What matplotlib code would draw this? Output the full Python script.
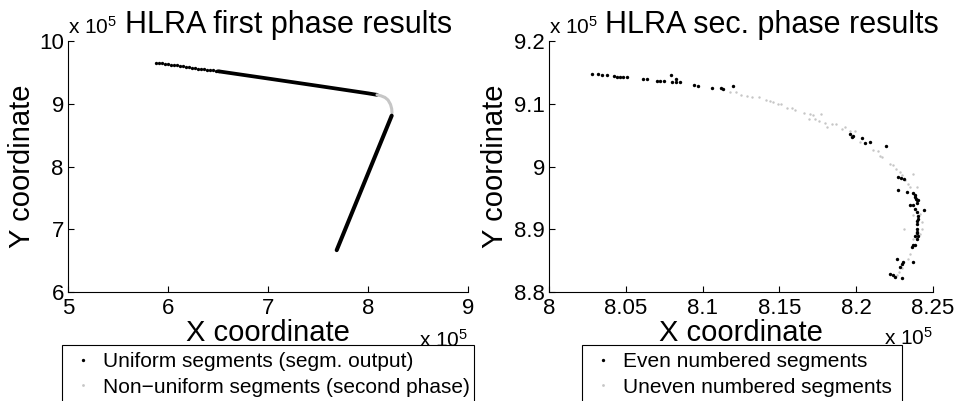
import matplotlib
matplotlib.use("Agg")
import matplotlib.pyplot as plt
from matplotlib.lines import Line2D
from matplotlib.ticker import FormatStrFormatter

plt.rcParams['font.family'] = ['Liberation Sans', 'DejaVu Sans']
plt.rcParams['mathtext.fontset'] = 'custom'
plt.rcParams['mathtext.rm'] = 'Liberation Sans'
plt.rcParams['mathtext.it'] = 'Liberation Sans'

# ---------------- data (coordinates in units of 10^5) ----------------
# First phase: sparse uniform-segment dots at the far end of the upper branch
sparse_x = [5.88, 5.91, 5.94, 5.97, 6.00, 6.03, 6.06, 6.09, 6.12, 6.15, 6.18,
            6.21, 6.24, 6.27, 6.30, 6.33, 6.36, 6.39, 6.42, 6.45, 6.48, 6.51]
sparse_y = [9.656, 9.650, 9.642, 9.637, 9.628, 9.623, 9.615, 9.610, 9.601, 9.597, 9.588,
            9.583, 9.575, 9.570, 9.561, 9.556, 9.548, 9.543, 9.534, 9.530, 9.521, 9.516]
# dense uniform segments (upper branch)
upper_x = [6.50, 7.00, 7.50, 8.00, 8.09]
upper_y = [9.518, 9.402, 9.285, 9.166, 9.142]
# non-uniform segments (corner arc)
arc_x = [8.09, 8.13, 8.17, 8.20, 8.225, 8.237, 8.240]
arc_y = [9.142, 9.126, 9.100, 9.060, 8.990, 8.920, 8.855]
# dense uniform segments (lower branch)
lower_x = [8.237, 7.687]
lower_y = [8.810, 6.667]

# Second phase: even numbered segments
even_x = [8.0278, 8.032, 8.0347, 8.038, 8.042, 8.044, 8.046, 8.048, 8.051,
          8.061, 8.064, 8.070, 8.072, 8.075, 8.0794, 8.080, 8.083, 8.083, 8.085,
          8.0946, 8.0972, 8.106, 8.112, 8.1135, 8.1196,
          8.196, 8.197, 8.198, 8.2035, 8.206, 8.209, 8.2195,
          8.227, 8.229, 8.231, 8.2275, 8.2329, 8.2372, 8.238, 8.2383, 8.239, 8.2393, 8.2404,
          8.2395, 8.235, 8.2372, 8.2383, 8.2393, 8.2443, 8.240,
          8.2404, 8.2395, 8.2398, 8.2393, 8.2398, 8.2404, 8.2393,
          8.2372, 8.2361, 8.2383, 8.2393, 8.2383,
          8.2263, 8.2368, 8.2307, 8.2296, 8.2285,
          8.222, 8.2242, 8.2253, 8.2296]
even_y = [9.148, 9.147, 9.146, 9.146, 9.144, 9.143, 9.143, 9.143, 9.143,
          9.140, 9.139, 9.137, 9.137, 9.137, 9.146, 9.135, 9.140, 9.134, 9.135,
          9.130, 9.129, 9.125, 9.125, 9.123, 9.129,
          9.051, 9.047, 9.049, 9.046, 9.037, 9.039, 9.032,
          8.984, 8.982, 8.980, 8.962, 8.959, 8.957, 8.955, 8.951, 8.949, 8.946, 8.946,
          8.942, 8.938, 8.938, 8.933, 8.927, 8.930, 8.921,
          8.917, 8.913, 8.909, 8.901, 8.896, 8.890, 8.885,
          8.875, 8.872, 8.875, 8.894, 8.890,
          8.852, 8.848, 8.848, 8.844, 8.840,
          8.828, 8.827, 8.824, 8.823]
# Second phase: uneven numbered segments
odd_x = [8.118, 8.122, 8.125, 8.129, 8.132, 8.137, 8.141, 8.144, 8.146, 8.149, 8.151,
         8.155, 8.158, 8.160, 8.166, 8.170, 8.172, 8.177, 8.169, 8.173, 8.176, 8.180,
         8.181, 8.184, 8.187, 8.191, 8.193, 8.196, 8.199, 8.2025, 8.211, 8.214, 8.2155,
         8.217, 8.222, 8.224, 8.226, 8.2285, 8.230, 8.2368, 8.2318, 8.234, 8.235, 8.2398,
         8.2372, 8.2415, 8.2426, 8.2426, 8.2415, 8.2372, 8.2313, 8.235, 8.234, 8.2296,
         8.228, 8.2267]
odd_y = [9.119, 9.119, 9.114, 9.113, 9.111, 9.110, 9.106, 9.104, 9.102, 9.100, 9.100,
         9.094, 9.093, 9.090, 9.085, 9.084, 9.082, 9.083, 9.076, 9.076, 9.073, 9.070,
         9.063, 9.067, 9.067, 9.060, 9.063, 9.057, 9.056, 9.039, 9.027, 9.025, 9.017,
         9.015, 9.004, 9.002, 8.996, 8.991, 8.986, 8.988, 8.978, 8.972, 8.967, 8.968,
         8.922, 8.925, 8.912, 8.901, 8.893, 8.885, 8.901, 8.861, 8.853, 8.838,
         8.832, 8.827]

left_xticks = [5, 6, 7, 8, 9]
left_yticks = [6, 7, 8, 9, 10]
right_xticks = [8.0, 8.05, 8.1, 8.15, 8.2, 8.25]
right_yticks = [8.8, 8.9, 9.0, 9.1, 9.2]

titles = ["HLRA first phase results", "HLRA sec. phase results"]
left_labels = ["Uniform segments (segm. output)", "Non\u2212uniform segments (second phase)"]
right_labels = ["Even numbered segments", "Uneven numbered segments"]

GRAY = '#c6c6c6'
W, H = 960, 401
TICK_FS = 16
LABEL_FS = 21
TITLE_FS = 22
LEG_FS = 15
EXP_FS = 15

fig = plt.figure(figsize=(9.6, 4.01), dpi=100)
axL = fig.add_axes([68 / W, 1 - 292 / H, 400 / W, 251 / H])
axR = fig.add_axes([549 / W, 1 - 292 / H, 384 / W, 251 / H])

# left panel
axL.plot(sparse_x, sparse_y, ls='none', marker='o', ms=2.4, color='k', mew=0)
axL.plot(upper_x, upper_y, color='k', lw=2.7, solid_capstyle='round')
axL.plot(arc_x, arc_y, color=GRAY, lw=2.2, solid_capstyle='round')
axL.plot(lower_x, lower_y, color='k', lw=2.9, solid_capstyle='round')
axL.set_xlim(5, 9)
axL.set_ylim(6, 10)
axL.set_xticks(left_xticks)
axL.set_yticks(left_yticks)

# right panel
axR.scatter(odd_x, odd_y, s=3, color=GRAY, linewidths=0, zorder=2)
axR.scatter(even_x, even_y, s=6, color='k', linewidths=0, zorder=3)
axR.set_xlim(8.0, 8.25)
axR.set_ylim(8.8, 9.2)
axR.set_xticks(right_xticks)
axR.set_yticks(right_yticks)

for ax, ylab_x in ((axL, (22 - 68) / 400), (axR, (495 - 549) / 384)):
    for s in ('top', 'right'):
        ax.spines[s].set_visible(False)
    for s in ('left', 'bottom'):
        ax.spines[s].set_linewidth(0.8)
    ax.tick_params(direction='in', length=4, width=0.8, labelsize=TICK_FS)
    ax.tick_params(axis='x', pad=4)
    ax.tick_params(axis='y', pad=3)
    ax.xaxis.set_major_formatter(FormatStrFormatter('%g'))
    ax.yaxis.set_major_formatter(FormatStrFormatter('%g'))
    ax.set_xlabel("X coordinate", fontsize=LABEL_FS, va='baseline')
    ax.xaxis.set_label_coords(0.5, -(341 - 292) / 251)
    ax.set_ylabel("Y coordinate", fontsize=LABEL_FS, va='center')
    ax.yaxis.set_label_coords(ylab_x, 0.5)

# titles and exponent labels
fig.text(289 / W, 1 - 33 / H, titles[0], fontsize=TITLE_FS, ha='center', va='baseline')
fig.text(772 / W, 1 - 33 / H, titles[1], fontsize=TITLE_FS, ha='center', va='baseline')
fig.text(68 / W, 1 - 34 / H, r'x 10$^5$', fontsize=EXP_FS, ha='left', va='baseline')
fig.text(549 / W, 1 - 34 / H, r'x 10$^5$', fontsize=EXP_FS, ha='left', va='baseline')
fig.text(468 / W, 1 - 347 / H, r'x 10$^5$', fontsize=EXP_FS, ha='right', va='baseline')
fig.text(933 / W, 1 - 345 / H, r'x 10$^5$', fontsize=EXP_FS, ha='right', va='baseline')

# legends
def make_handles():
    return [Line2D([], [], ls='none', marker='o', ms=2.4, mew=0, color='k'),
            Line2D([], [], ls='none', marker='o', ms=2.0, mew=0, color=GRAY)]

for labels, x0, x1 in ((left_labels, 62, 474), (right_labels, 582, 902)):
    leg = fig.legend(make_handles(), labels, loc='upper left',
                     bbox_to_anchor=(x0 / W, 1 - 345 / H, (x1 - x0) / W, 0),
                     bbox_transform=fig.transFigure, mode='expand', borderaxespad=0,
                     fontsize=LEG_FS, handlelength=1.3, handletextpad=0.3,
                     borderpad=0.35, labelspacing=0.3, fancybox=False,
                     edgecolor='k', framealpha=1)
    leg.get_frame().set_linewidth(0.8)

fig.savefig("out.png", dpi=100)
